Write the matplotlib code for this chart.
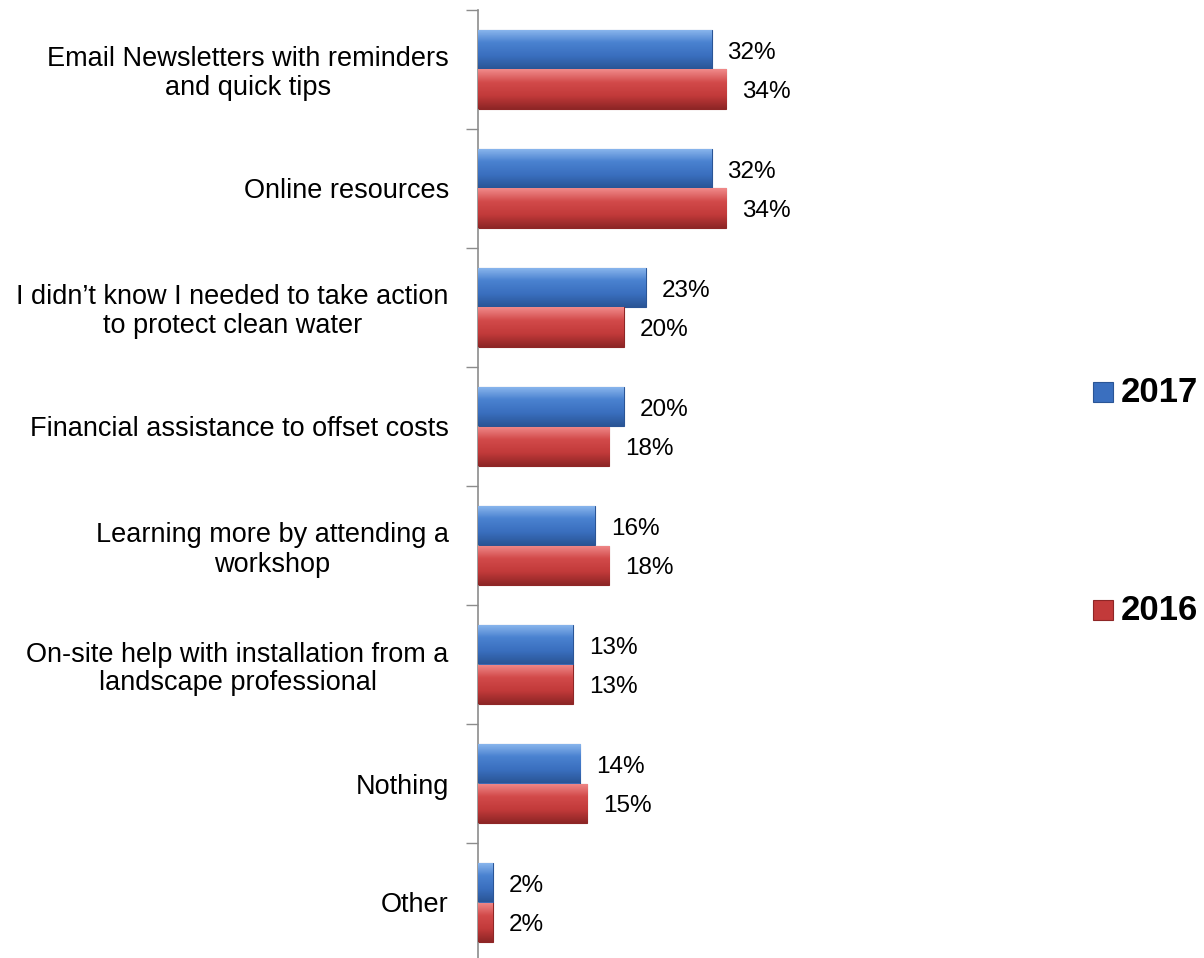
import numpy as np
import matplotlib
matplotlib.use("Agg")
import matplotlib.pyplot as plt
from matplotlib.colors import LinearSegmentedColormap
from matplotlib.patches import Rectangle

categories = [
    "Email Newsletters with reminders\nand quick tips",
    "Online resources",
    "I didn\u2019t know I needed to take action\nto protect clean water",
    "Financial assistance to offset costs",
    "Learning more by attending a\nworkshop",
    "On-site help with installation from a\nlandscape professional",
    "Nothing",
    "Other",
]
values_2017 = [32, 32, 23, 20, 16, 13, 14, 2]
values_2016 = [34, 34, 20, 18, 18, 13, 15, 2]
series_names = ["2017", "2016"]

# top highlight -> body -> darker bottom edge
blue_shades = ["#8db8ee", "#4a82d0", "#3a6fbf", "#2a5596"]
red_shades = ["#f08a8a", "#d24a4a", "#c23a3a", "#8e2626"]

plt.rcParams["font.family"] = ["Liberation Sans", "DejaVu Sans"]

fig = plt.figure(figsize=(12.04, 9.58), dpi=100)
ax = fig.add_axes([478 / 1204, -4 / 958, 0.6, 952 / 958])

n = len(categories)
y = np.arange(n)
h = 0.336


def shaded_bars(ax, ypos, vals, shades):
    cmap = LinearSegmentedColormap.from_list("shade", shades)
    grad = np.linspace(0, 1, 64).reshape(-1, 1)
    bars = ax.barh(ypos, vals, height=h, color=shades[2],
                   edgecolor=shades[3], linewidth=0.8, zorder=2)
    for b in bars:
        x0, y0 = b.get_x(), b.get_y()
        w, hh = b.get_width(), b.get_height()
        im = ax.imshow(grad, cmap=cmap, aspect="auto", zorder=3,
                       extent=[x0, x0 + w, y0 + hh, y0], interpolation="bilinear")
        im.set_clip_path(b)
    return bars


# categories go top to bottom; blue sits above red inside each group
shaded_bars(ax, y - h / 2, values_2017, blue_shades)
shaded_bars(ax, y + h / 2, values_2016, red_shades)

for i in range(n):
    ax.text(values_2017[i] + 2.2, y[i] - h / 2 + 0.03, f"{values_2017[i]}%",
            va="center", ha="left", fontsize=17.5)
    ax.text(values_2016[i] + 2.2, y[i] + h / 2 + 0.02, f"{values_2016[i]}%",
            va="center", ha="left", fontsize=17.5)

ax.set_xlim(0, 99)
ax.set_ylim(n - 0.5, -0.5)

ax.set_yticks(y)
ax.set_yticklabels(categories, fontsize=19.5, multialignment="center",
                   linespacing=1.15)
ax.tick_params(axis="y", which="major", length=0, pad=21)
ax.set_yticks(np.arange(n + 1) - 0.5, minor=True)
ax.tick_params(axis="y", which="minor", length=9, width=1, color="#8c8c8c")
ax.set_xticks([])

for s in ["top", "right", "bottom"]:
    ax.spines[s].set_visible(False)
ax.spines["left"].set_color("#8c8c8c")
ax.spines["left"].set_linewidth(1.2)

# legend squares and labels on the right
legend_rows = [(392, blue_shades), (610, red_shades)]
for (py, shades), name in zip(legend_rows, series_names):
    sq = Rectangle((1093 / 1204, 1 - (py + 10) / 958), 20 / 1204, 20 / 958,
                   transform=fig.transFigure, facecolor=shades[2],
                   edgecolor=shades[3], linewidth=0.8)
    fig.add_artist(sq)
    fig.text(1121 / 1204, 1 - py / 958, name, fontsize=25, fontweight="bold",
             va="center", ha="left")

fig.savefig("out.png", dpi=100)
